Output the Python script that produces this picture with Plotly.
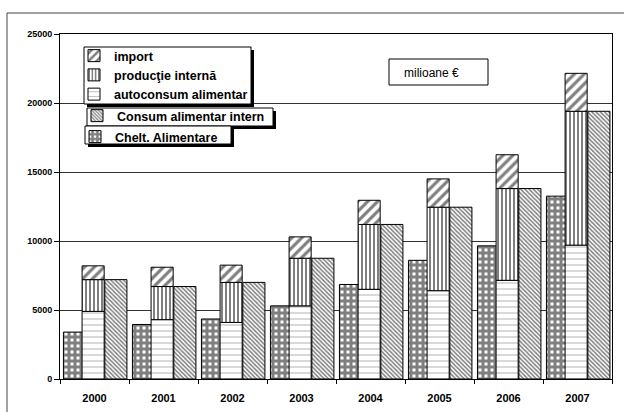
import plotly.graph_objects as go

# Annual food consumption, million EUR
years = ["2000", "2001", "2002", "2003", "2004", "2005", "2006", "2007"]
chelt_alimentare = [3400, 3950, 4350, 5300, 6850, 8600, 9650, 13250]
autoconsum = [4900, 4300, 4100, 5300, 6500, 6400, 7150, 9700]
productie_interna = [2300, 2400, 2900, 3450, 4700, 6050, 6650, 9700]
import_val = [1000, 1400, 1250, 1550, 1750, 2050, 2450, 2750]
consum_intern = [7200, 6700, 7000, 8750, 11200, 12450, 13800, 19400]

y_ticks = [0, 5000, 10000, 15000, 20000, 25000]

W, H = 624, 412
L, R, T, B = 60, 12, 34, 33
PW, PH = W - L - R, H - T - B

FONT = "Liberation Sans, Arial, sans-serif"
line = dict(color="black", width=1)
BW = 0.32


def px_x(px):
    return (px - L) / PW


def px_y(py):
    return (H - B - py) / PH


base_prod = autoconsum
base_imp = [a + p for a, p in zip(autoconsum, productie_interna)]

fig = go.Figure()

fig.add_trace(go.Bar(
    x=years, y=chelt_alimentare, name="Chelt. Alimentare",
    offset=-0.45, width=BW, legend="legend3",
    marker=dict(color="white", line=line,
                pattern=dict(shape="+", size=6, solidity=0.75, fgcolor="black",
                             bgcolor="white", fillmode="overlay")),
))
fig.add_trace(go.Bar(
    x=years, y=autoconsum, name="autoconsum alimentar",
    offset=-0.18, width=BW, legend="legend", legendrank=3,
    marker=dict(color="white", line=line,
                pattern=dict(shape="-", size=6, solidity=0.15, fgcolor="#555555",
                             bgcolor="white", fillmode="overlay")),
))
fig.add_trace(go.Bar(
    x=years, y=productie_interna, base=base_prod, name="producţie internă",
    offset=-0.18, width=BW, legend="legend", legendrank=2,
    marker=dict(color="white", line=line,
                pattern=dict(shape="|", size=4, solidity=0.5, fgcolor="black",
                             bgcolor="white", fillmode="overlay")),
))
fig.add_trace(go.Bar(
    x=years, y=import_val, base=base_imp, name="import",
    offset=-0.18, width=BW, legend="legend", legendrank=1,
    marker=dict(color="white", line=line,
                pattern=dict(shape="/", size=7, solidity=0.45, fgcolor="black",
                             bgcolor="white", fillmode="overlay")),
))
fig.add_trace(go.Bar(
    x=years, y=consum_intern, name="Consum alimentar intern",
    offset=0.15, width=BW, legend="legend2",
    marker=dict(color="white", line=line,
                pattern=dict(shape="\\", size=3, solidity=0.5, fgcolor="black",
                             bgcolor="white", fillmode="overlay")),
))

leg_common = dict(
    bgcolor="rgba(0,0,0,0)", borderwidth=0,
    font=dict(family=FONT, size=12.5, color="black", weight="bold"),
    xanchor="left", yanchor="top", itemwidth=30,
    tracegroupgap=0,
)


def boxed(x0, y0, x1, y1, shadow=3):
    """White framed box with a dark drop shadow, in pixel coordinates."""
    out = []
    if shadow:
        out.append(dict(type="rect", xref="paper", yref="paper", layer="above",
                        x0=px_x(x0 + shadow), x1=px_x(x1 + shadow),
                        y0=px_y(y0 + shadow), y1=px_y(y1 + shadow),
                        fillcolor="black", line=dict(width=0)))
    out.append(dict(type="rect", xref="paper", yref="paper", layer="above",
                    x0=px_x(x0), x1=px_x(x1), y0=px_y(y0), y1=px_y(y1),
                    fillcolor="white", line=dict(color="black", width=1)))
    return out


shapes = [
    # outer frame
    dict(type="line", xref="paper", yref="paper", x0=px_x(7), x1=px_x(7),
         y0=px_y(13), y1=px_y(420), line=dict(color="#444444", width=1)),
    dict(type="line", xref="paper", yref="paper", x0=px_x(7), x1=px_x(630),
         y0=px_y(13), y1=px_y(13), line=dict(color="#444444", width=1)),
]
shapes += boxed(84, 47, 251, 104)
shapes += boxed(87, 108, 273, 126)
shapes += boxed(85, 126, 231, 144)
shapes += boxed(389, 59, 488, 85, shadow=0)

fig.update_layout(
    width=W, height=H,
    margin=dict(l=L, r=R, t=T, b=B, autoexpand=False),
    paper_bgcolor="white", plot_bgcolor="white",
    barmode="overlay",
    showlegend=True,
    legend=dict(x=px_x(74), y=px_y(41), **leg_common),
    legend2=dict(x=px_x(77), y=px_y(101), **leg_common),
    legend3=dict(x=px_x(75), y=px_y(122), **leg_common),
    xaxis=dict(
        type="category", tickson="boundaries", ticks="outside", ticklen=4,
        tickcolor="black", showline=True, linecolor="black", mirror=True,
        showgrid=False, automargin=False,
        tickfont=dict(family=FONT, size=11, color="black", weight="bold"),
        ticklabelstandoff=9,
    ),
    yaxis=dict(
        range=[0, 25000], tickvals=y_ticks, ticktext=[str(v) for v in y_ticks],
        ticks="outside", ticklen=5, automargin=False,
        tickcolor="black", showline=True, linecolor="black", mirror=True,
        showgrid=True, gridcolor="#333333", gridwidth=1, zeroline=False,
        tickfont=dict(family=FONT, size=9, color="black", weight="bold"),
    ),
    shapes=shapes,
    annotations=[
        dict(text="milioane €", xref="paper", yref="paper", x=px_x(402), y=px_y(73),
             xanchor="left", yanchor="middle", showarrow=False,
             font=dict(family=FONT, size=12, color="black")),
    ],
)

fig.write_html("out.html")
